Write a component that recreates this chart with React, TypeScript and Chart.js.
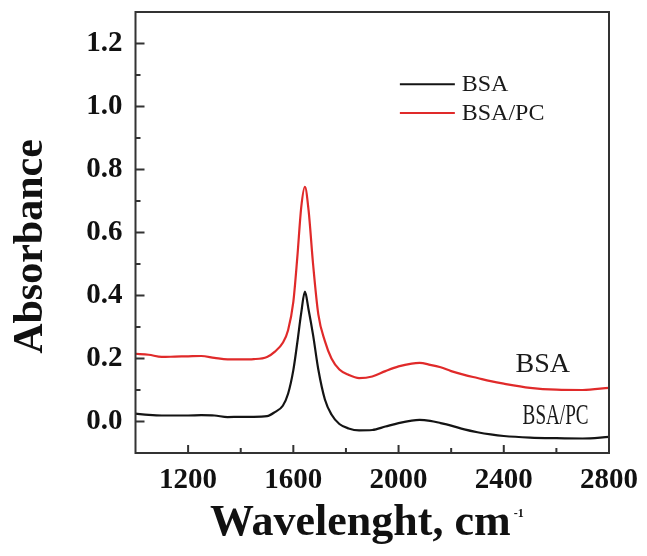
import React, { useEffect, useRef } from 'react';
import { Chart, registerables } from 'chart.js';

Chart.register(...registerables);

// Wavenumber positions (cm-1)
const WAVENUMBERS = [
  1000, 1050, 1100, 1150, 1200, 1250, 1300, 1350, 1400, 1450, 1500, 1530, 1560, 1580,
  1600, 1615, 1630, 1644, 1658, 1675, 1695, 1720, 1745, 1775, 1810, 1850, 1900, 1950,
  2000, 2050, 2080, 2120, 2160, 2200, 2250, 2300, 2350, 2400, 2500, 2600, 2700, 2800,
];

// Black curve
const BSA = [
  0.025, 0.021, 0.019, 0.019, 0.019, 0.020, 0.019, 0.014, 0.015, 0.015, 0.017, 0.03, 0.05, 0.088,
  0.163, 0.25, 0.345, 0.412, 0.355, 0.275, 0.165, 0.07, 0.022, -0.008, -0.022, -0.028, -0.027, -0.016,
  -0.005, 0.003, 0.005, 0.002, -0.005, -0.013, -0.025, -0.034, -0.041, -0.046, -0.051, -0.053, -0.054, -0.049,
];

// Red curve
const BSA_PC = [
  0.215, 0.212, 0.205, 0.206, 0.207, 0.208, 0.202, 0.197, 0.197, 0.198, 0.205, 0.222, 0.25, 0.29,
  0.38, 0.52, 0.68, 0.745, 0.67, 0.5, 0.34, 0.255, 0.2, 0.165, 0.148, 0.138, 0.143, 0.16,
  0.175, 0.184, 0.186, 0.18, 0.172, 0.16, 0.148, 0.138, 0.128, 0.12, 0.107, 0.101, 0.1, 0.107,
];

const X_MAJOR = [1200, 1600, 2000, 2400, 2800];
const X_MINOR = [1400, 1800, 2200, 2600];
const Y_MAJOR = [0, 0.2, 0.4, 0.6, 0.8, 1.0, 1.2];
const Y_MINOR = [0.1, 0.3, 0.5, 0.7, 0.9, 1.1];

const SERIES_NAMES = ['BSA', 'BSA/PC'];
const SERIES_COLORS = ['#141414', '#e02a2a'];

// Legend anchor (data coordinates) and in-plot labels (data coordinates)
const LEGEND_LINE_X = [2005, 2214];
const LEGEND_Y = [1.071, 0.979];
const LEGEND_TEXT_X = 2240;
const ANNOTATIONS = [
  { text: 'BSA', x: 2548, y: 0.18 },
  { text: 'BSA/PC', x: 2597, y: 0.017 },
];

const SERIF = '"Liberation Serif", "Times New Roman", serif';

const decorPlugin = {
  id: 'decor',
  afterDraw(chart: any) {
    const { ctx, chartArea, scales } = chart;
    const { left, right, top, bottom } = chartArea;
    const xs = scales.x;
    const ys = scales.y;
    ctx.save();
    // frame
    ctx.strokeStyle = '#333';
    ctx.lineWidth = 2;
    ctx.strokeRect(left, top, right - left, bottom - top);
    // inward ticks
    ctx.beginPath();
    Y_MAJOR.forEach((v) => {
      const p = ys.getPixelForValue(v);
      ctx.moveTo(left, p);
      ctx.lineTo(left + 9, p);
    });
    Y_MINOR.forEach((v) => {
      const p = ys.getPixelForValue(v);
      ctx.moveTo(left, p);
      ctx.lineTo(left + 5, p);
    });
    X_MAJOR.forEach((v) => {
      const p = xs.getPixelForValue(v);
      ctx.moveTo(p, bottom);
      ctx.lineTo(p, bottom - 8);
    });
    X_MINOR.forEach((v) => {
      const p = xs.getPixelForValue(v);
      ctx.moveTo(p, bottom);
      ctx.lineTo(p, bottom - 5);
    });
    ctx.stroke();

    // legend
    SERIES_NAMES.forEach((name, i) => {
      const y = ys.getPixelForValue(LEGEND_Y[i]);
      ctx.strokeStyle = SERIES_COLORS[i];
      ctx.lineWidth = 2;
      ctx.beginPath();
      ctx.moveTo(xs.getPixelForValue(LEGEND_LINE_X[0]), y);
      ctx.lineTo(xs.getPixelForValue(LEGEND_LINE_X[1]), y);
      ctx.stroke();
      ctx.fillStyle = '#1a1a1a';
      ctx.font = `24px ${SERIF}`;
      ctx.textAlign = 'left';
      ctx.textBaseline = 'middle';
      ctx.fillText(name, xs.getPixelForValue(LEGEND_TEXT_X), y + 1);
    });

    // annotations
    ctx.fillStyle = '#1a1a1a';
    ctx.textAlign = 'center';
    ctx.textBaseline = 'middle';
    {
      const a = ANNOTATIONS[0];
      ctx.font = `28px ${SERIF}`;
      ctx.fillText(a.text, xs.getPixelForValue(a.x), ys.getPixelForValue(a.y));
    }
    {
      const a = ANNOTATIONS[1];
      ctx.save();
      ctx.translate(xs.getPixelForValue(a.x), ys.getPixelForValue(a.y));
      ctx.scale(0.66, 1);
      ctx.font = `29px ${SERIF}`;
      ctx.fillText(a.text, 0, 0);
      ctx.restore();
    }

    // y title
    ctx.save();
    ctx.translate(42, (top + bottom) / 2 + 14);
    ctx.rotate(-Math.PI / 2);
    ctx.font = `bold 42px ${SERIF}`;
    ctx.fillStyle = '#111';
    ctx.textAlign = 'center';
    ctx.textBaseline = 'alphabetic';
    ctx.fillText('Absorbance', 0, 0);
    ctx.restore();

    // x title
    ctx.font = `bold 44px ${SERIF}`;
    const main = 'Wavelenght, cm';
    const w = ctx.measureText(main).width;
    const startX = 210;
    ctx.fillStyle = '#111';
    ctx.textAlign = 'left';
    ctx.textBaseline = 'alphabetic';
    ctx.fillText(main, startX, 535);
    ctx.font = `bold 12px ${SERIF}`;
    ctx.fillText('-1', startX + w + 3, 517);
    ctx.restore();
  },
};

export default function App() {
  const ref = useRef<HTMLCanvasElement>(null);
  useEffect(() => {
    if (!ref.current) return;
    const tickFont = { family: SERIF, size: 29, weight: 'bold' as const };
    const chart = new Chart(ref.current, {
      type: 'line',
      data: {
        datasets: [
          {
            label: SERIES_NAMES[0],
            data: WAVENUMBERS.map((x, i) => ({ x, y: BSA[i] })),
            borderColor: SERIES_COLORS[0],
            borderWidth: 2.2,
            pointRadius: 0,
            cubicInterpolationMode: 'monotone',
          },
          {
            label: SERIES_NAMES[1],
            data: WAVENUMBERS.map((x, i) => ({ x, y: BSA_PC[i] })),
            borderColor: SERIES_COLORS[1],
            borderWidth: 2.2,
            pointRadius: 0,
            cubicInterpolationMode: 'monotone',
          },
        ],
      },
      options: {
        animation: false,
        responsive: false,
        layout: { padding: { top: 12, right: 38, left: 0, bottom: 0 } },
        plugins: { legend: { display: false }, tooltip: { enabled: false } },
        scales: {
          x: {
            type: 'linear',
            min: 1000,
            max: 2800,
            afterBuildTicks: (a: any) => {
              a.ticks = X_MAJOR.map((value) => ({ value }));
            },
            afterFit: (s: any) => {
              s.height = 103;
              s.paddingLeft = 0;
              s.paddingRight = 0;
            },
            ticks: {
              font: tickFont,
              color: '#111',
              padding: 10,
              maxRotation: 0,
              autoSkip: false,
              callback: (v: any) => String(v),
            },
            grid: { display: false, drawTicks: false },
            border: { display: false },
          },
          y: {
            type: 'linear',
            min: -0.1,
            max: 1.3,
            afterBuildTicks: (a: any) => {
              a.ticks = Y_MAJOR.map((value) => ({ value }));
            },
            afterFit: (s: any) => {
              s.width = 135.5;
              s.paddingTop = 0;
              s.paddingBottom = 0;
            },
            ticks: {
              font: tickFont,
              color: '#111',
              padding: 13,
              autoSkip: false,
              callback: (v: any) => Number(v).toFixed(1),
            },
            grid: { display: false, drawTicks: false },
            border: { display: false },
          },
        },
      },
      plugins: [decorPlugin],
    });
    return () => chart.destroy();
  }, []);
  return (
    <div style={{ position: 'fixed', left: 0, top: 0, width: 647, height: 556, background: '#fff' }}>
      <canvas ref={ref} width={647} height={556} />
    </div>
  );
}
